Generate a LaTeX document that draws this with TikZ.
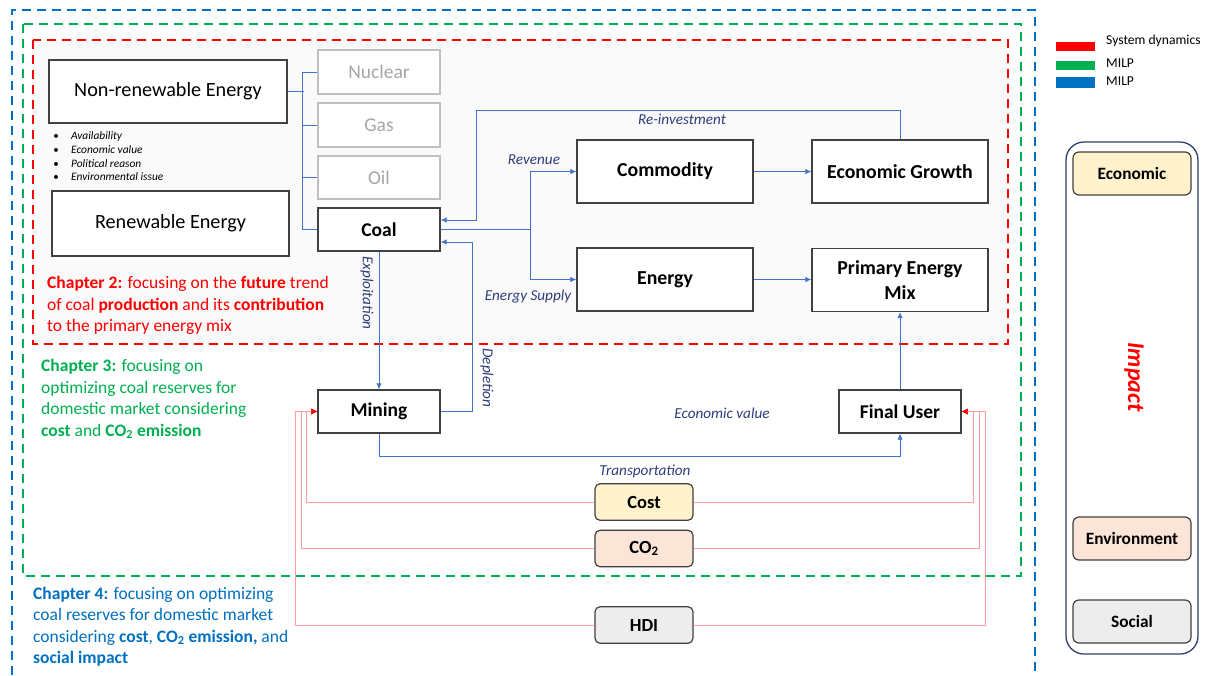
\documentclass[tikz,border=0pt]{standalone}
\usepackage{fontspec}
\setmainfont{Carlito}
\usetikzlibrary{arrows.meta,calc}
\definecolor{lblue}{HTML}{4472C4}
\definecolor{labc}{HTML}{2F3D7A}
\definecolor{dred}{HTML}{FF0000}
\definecolor{dgreen}{HTML}{00B050}
\definecolor{dblue}{HTML}{0070C0}
\definecolor{pinkl}{HTML}{FF9B9B}
\definecolor{costc}{HTML}{FFF2CC}
\definecolor{co2c}{HTML}{FBE5D6}
\definecolor{hdic}{HTML}{EDEDED}
\definecolor{boxc}{HTML}{404040}
\definecolor{grayb}{HTML}{C0C0C0}
\definecolor{grayt}{HTML}{A6A6A6}
\definecolor{impb}{HTML}{2F3E6E}
\definecolor{redbg}{HTML}{FAFAFA}
\newcommand{\fs}[1]{\fontsize{#1}{#1}\selectfont}
\begin{document}
\begin{tikzpicture}[x=1pt,y=-1pt,
  blk/.style={draw=boxc,line width=1.3pt,fill=white,inner sep=0pt,align=center},
  gry/.style={draw=grayb,line width=1.2pt,fill=white,inner sep=0pt,text=grayt,font=\fs{19.5}},
  rbox/.style={draw=boxc,line width=1.2pt,rounded corners=5pt,inner sep=0pt,font=\bfseries\fs{18.5},minimum width=98pt,minimum height=36.5pt},
  ibox/.style={draw=boxc,line width=1.2pt,rounded corners=6pt,inner sep=0pt,font=\bfseries\fs{17.3},minimum width=118pt,minimum height=43pt},
  bl/.style={draw=lblue,line width=0.9pt},
  bla/.style={bl,-{Latex[length=6pt,width=5.5pt]}},
  rda/.style={draw=pinkl,line width=1pt,-{Latex[length=6pt,width=6pt,color=dred]}},
  lab/.style={text=labc,font=\itshape\fs{15.2},inner sep=0pt},
  dsh/.style={line width=2.5pt,dash pattern=on 9pt off 6pt},
  bul/.style={anchor=base west,inner sep=0pt,font=\itshape\fs{11.4}},
  chap/.style={anchor=base west,inner sep=0pt,font=\fs{17.5}}
]
\useasboundingbox[fill=white] (0,0) rectangle (1209,675);
% dashed frames
\fill[redbg] (33,40) rectangle (1008,344);
\draw[dsh,draw=dblue] (12,690) -- (12,10) -- (1035,10) -- (1035,690);
\draw[dsh,draw=dgreen] (23,24) rectangle (1021,576);
\draw[dsh,draw=dred] (33,40) rectangle (1008,344);
% legend
\fill[dred] (1056,42) rectangle (1095,51);
\fill[dgreen] (1056,61) rectangle (1095,70);
\fill[dblue] (1056,77) rectangle (1095,88);
\node[anchor=west,inner sep=0pt,font=\fs{13.6}] (lg1) at (1106,41) {System dynamics};
\node[anchor=west,inner sep=0pt,font=\fs{13.6}] (lg2) at (1106,63) {MILP};
\node[anchor=west,inner sep=0pt,font=\fs{13.6}] (lg3) at (1106,81) {MILP};
% left boxes
\node[blk,minimum width=238pt,minimum height=63pt,font=\fs{20.2}] (nre) at (168,91.5) {Non-renewable Energy};
\node[blk,minimum width=237pt,minimum height=65pt,font=\fs{20.2}] (re) at (170.5,223.5) {Renewable Energy};
\node[bul] (b1) at (71,139.5) {Availability};
\node[bul] (b2) at (71,153.2) {Economic value};
\node[bul] (b3) at (71,167) {Political reason};
\node[bul] (b4) at (71,180.7) {Environmental issue};
\foreach \yy/\nm in {139.5/d1,153.2/d2,167/d3,180.7/d4}{
  \node[anchor=base,inner sep=0pt,font=\fs{11}] (\nm) at (56,\yy) {•};
}
\node[gry,minimum width=122pt,minimum height=44pt] (nuc) at (379,72) {Nuclear};
\node[gry,minimum width=122pt,minimum height=44pt] (gas) at (379,125) {Gas};
\node[gry,minimum width=122pt,minimum height=43pt] (oil) at (379,177.5) {Oil};
\node[blk,minimum width=122pt,minimum height=43pt,font=\bfseries\fs{19.5}] (coal) at (379,229.5) {Coal};
% middle/right boxes
\node[blk,minimum width=176pt,minimum height=63pt,font=\bfseries\fs{19.8}] (com) at (665,171.5) {Commodity};
\node[blk,minimum width=176pt,minimum height=63pt,font=\bfseries\fs{19.8}] (eg) at (900,171.5) {Economic Growth};
\node[blk,minimum width=176pt,minimum height=63pt,font=\bfseries\fs{19.8}] (en) at (665,279.5) {Energy};
\node[blk,minimum width=176pt,minimum height=63pt,font=\bfseries\fs{19.8}] (pem) at (900,280) {Primary Energy\\[4.5pt]Mix};
\node[blk,minimum width=122pt,minimum height=43pt,font=\bfseries\fs{19.5}] (mining) at (379,411.5) {Mining};
\node[blk,minimum width=122pt,minimum height=43pt,font=\bfseries\fs{19.5}] (fu) at (900,411.5) {Final User};
\node[rbox,fill=costc] (cost) at (644,502) {Cost};
\node[rbox,fill=co2c] (co2) at (644,548.5) {CO\textsubscript{2}};
\node[rbox,fill=hdic] (hdi) at (644,625) {HDI};
% impact panel
\draw[draw=impb,line width=1.3pt,rounded corners=18pt] (1066,142) rectangle (1198,654);
\node[ibox,fill=costc] (eco) at (1132,173.5) {Economic};
\node[ibox,fill=co2c] (env) at (1132,538.5) {Environment};
\node[ibox,fill=hdic] (soc) at (1132,621.5) {Social};
\node[rotate=-90,text=dred,font=\bfseries\itshape\fs{24},inner sep=0pt] (imp) at (1134,377) {Impact};
% connectors: energy sources
\draw[bl] (nre.east) -- ++(16,0);
\draw[bl] (nuc.west) -- ++(-15,0) |- (coal.west);
\draw[bl] (gas.west) -- ++(-15,0);
\draw[bl] (oil.west) -- ++(-15,0);
% coal branches
\coordinate (br) at ($(coal.east)+(90,0)$);
\draw[bl] (coal.east) -- (br);
\draw[bla] (br) |- (com.west);
\draw[bla] (br) |- (en.west);
\draw[bla] (com.east) -- (eg.west);
\draw[bla] (en.east) -- (en.east -| pem.west);
\coordinate (ri) at ($(coal.east)+(0,-9.5)$);
\coordinate (dp) at ($(coal.east)+(0,12.5)$);
\draw[bla] (eg.north) |- (476,110) |- (ri);
\draw[bla] (coal.south) -- (mining.north);
\draw[bla] (mining.east) -- ++(32,0) |- (dp);
\draw[bla] (mining.south) -- ++(0,23) -| (fu.south);
\draw[bla] (fu.north) -- (pem.south);
% red impact lines
\draw[rda] (cost.west) -| ($(mining.west)+(-11,0)$) -- (mining.west);
\draw[rda] (co2.west) -| ($(mining.west)+(-16,0)$) -- (mining.west);
\draw[rda] (hdi.west) -| ($(mining.west)+(-22,0)$) -- (mining.west);
\draw[rda] (cost.east) -| ($(fu.east)+(12,0)$) -- (fu.east);
\draw[rda] (co2.east) -| ($(fu.east)+(18,0)$) -- (fu.east);
\draw[rda] (hdi.east) -| ($(fu.east)+(24,0)$) -- (fu.east);
% labels
\node[lab] (lrev) at (534,160) {Revenue};
\node[lab] (lsup) at (528,297) {Energy Supply};
\node[lab] (lre) at (682,119) {Re-investment};
\node[lab] (lev) at (722,413) {Economic value};
\node[lab] (ltr) at (645,471) {Transportation};
\node[lab,rotate=-90] (lex) at (367,293) {Exploitation};
\node[lab,rotate=-90] (ldp) at (487,378) {Depletion};
% chapter texts
\node[chap,text=dred] (c2a) at (47,288.5) {\textbf{Chapter 2:} focusing on the \textbf{future} trend};
\node[chap,text=dred] (c2b) at (47,310) {of coal \textbf{production} and its \textbf{contribution}};
\node[chap,text=dred] (c2c) at (47,331.5) {to the primary energy mix};
\node[chap,text=dgreen] (c3a) at (41,371.5) {\textbf{Chapter 3:} focusing on};
\node[chap,text=dgreen] (c3b) at (41,393) {optimizing coal reserves for};
\node[chap,text=dgreen] (c3c) at (41,414.5) {domestic market considering};
\node[chap,text=dgreen] (c3d) at (41,436) {\textbf{cost} and \textbf{CO\textsubscript{2} emission}};
\node[chap,text=dblue] (c4a) at (33,599) {\textbf{Chapter 4:} focusing on optimizing};
\node[chap,text=dblue] (c4b) at (33,620.5) {coal reserves for domestic market};
\node[chap,text=dblue] (c4c) at (33,642) {considering \textbf{cost}, \textbf{CO\textsubscript{2} emission,} and};
\node[chap,text=dblue] (c4d) at (33,663.5) {\textbf{social impact}};
\end{tikzpicture}
\end{document}
